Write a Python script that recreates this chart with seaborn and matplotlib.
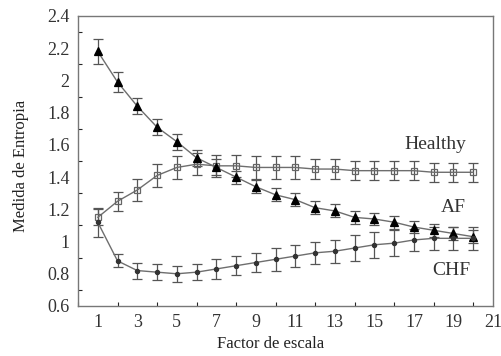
import matplotlib
matplotlib.use("Agg")
import matplotlib.pyplot as plt
import seaborn as sns
import numpy as np
import pandas as pd
from matplotlib.ticker import MultipleLocator

scale = list(range(1, 21))
af = [2.18, 1.99, 1.84, 1.71, 1.62, 1.52, 1.46, 1.40, 1.34, 1.29,
      1.26, 1.21, 1.19, 1.15, 1.14, 1.12, 1.09, 1.07, 1.05, 1.03]
af_err = [0.08, 0.06, 0.05, 0.05, 0.05, 0.05, 0.05, 0.04, 0.04, 0.04,
          0.04, 0.04, 0.04, 0.04, 0.04, 0.04, 0.04, 0.04, 0.04, 0.04]
healthy = [1.15, 1.25, 1.32, 1.41, 1.46, 1.48, 1.47, 1.47, 1.46, 1.46,
           1.46, 1.45, 1.45, 1.44, 1.44, 1.44, 1.44, 1.43, 1.43, 1.43]
healthy_err = [0.05, 0.06, 0.07, 0.07, 0.07, 0.07, 0.07, 0.07, 0.07, 0.07,
               0.07, 0.06, 0.06, 0.06, 0.06, 0.06, 0.06, 0.06, 0.06, 0.06]
chf = [1.12, 0.88, 0.82, 0.81, 0.80, 0.81, 0.83, 0.85, 0.87, 0.89,
       0.91, 0.93, 0.94, 0.96, 0.98, 0.99, 1.01, 1.02, 1.02, 1.02]
chf_err = [0.09, 0.04, 0.05, 0.05, 0.05, 0.05, 0.06, 0.06, 0.06, 0.07,
           0.07, 0.07, 0.07, 0.08, 0.08, 0.08, 0.07, 0.07, 0.07, 0.07]
labels = ["Healthy", "AF", "CHF"]

sns.set_style("white")
plt.rcParams['font.family'] = ['Liberation Serif', 'DejaVu Serif']

fig = plt.figure(figsize=(5.01, 3.56), dpi=100)
ax = fig.add_axes([78/501, 1-306/356, (493-78)/501, (306-16)/356])

line_col = "#6e6e6e"
series = [
    (healthy, healthy_err, "s", "none", "#666666", 4.0),
    (af, af_err, "^", "black", "black", 5.2),
    (chf, chf_err, "o", "#333333", "#333333", 3.0),
]
for vals, errs, mk, fc, ec, ms in series:
    df = pd.DataFrame({"x": scale, "y": vals})
    ax.errorbar(scale, vals, yerr=errs, fmt="none", ecolor="#555555",
                elinewidth=0.9, capsize=3.5, capthick=0.9, zorder=2)
    sns.lineplot(data=df, x="x", y="y", ax=ax, color=line_col, lw=1.0,
                 marker=mk, markersize=ms, markerfacecolor=fc,
                 markeredgecolor=ec, markeredgewidth=0.9, zorder=3)

ax.set_xlim(0, 21)
ax.set_ylim(0.6, 2.4)
ax.set_xticks(range(1, 22, 2))
ax.xaxis.set_minor_locator(MultipleLocator(1))
yt = np.round(np.arange(0.6, 2.41, 0.2), 1)
ax.set_yticks(yt)
ax.set_yticklabels([f"{v:g}" for v in yt])
ax.yaxis.set_minor_locator(MultipleLocator(0.1))
ax.tick_params(which="major", direction="in", length=6, width=0.8,
               labelsize=13, colors="#333333", top=False, right=False)
ax.tick_params(which="minor", direction="in", length=3, width=0.8,
               top=False, right=False, bottom=True, left=True)
ax.tick_params(axis="both", pad=6)
for s in ax.spines.values():
    s.set_color("#777777")
    s.set_linewidth(1.0)

ax.set_xlabel("Factor de escala", fontsize=12, color="#222222")
ax.set_ylabel("Medida de Entropia", fontsize=12, color="#222222")
ax.xaxis.set_label_coords(0.463, -0.105)
ax.yaxis.set_label_coords(-0.118, 0.483)

ax.text(18.1, 1.60, labels[0], fontsize=14, color="#333333", ha="center", va="center")
ax.text(19.0, 1.21, labels[1], fontsize=14, color="#333333", ha="center", va="center")
ax.text(18.9, 0.82, labels[2], fontsize=14, color="#333333", ha="center", va="center")

fig.savefig("out.png", dpi=100)
